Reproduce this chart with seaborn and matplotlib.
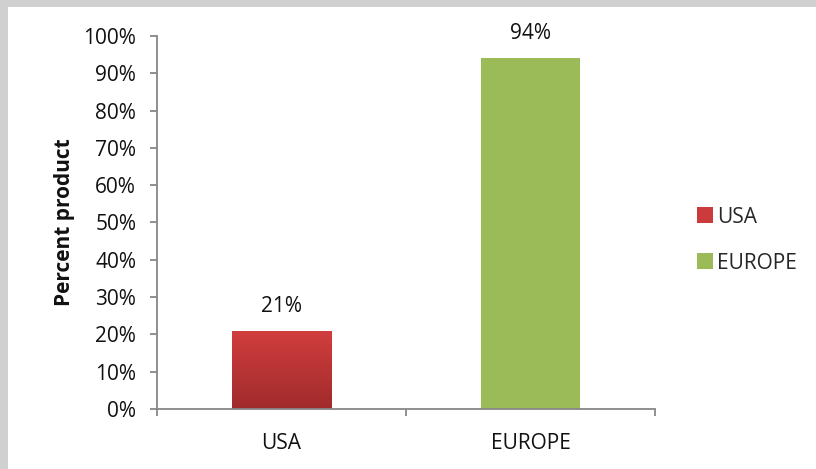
import numpy as np
import pandas as pd
import matplotlib
matplotlib.use("Agg")
import matplotlib.pyplot as plt
from matplotlib.patches import Rectangle
from matplotlib.colors import LinearSegmentedColormap
from matplotlib.ticker import PercentFormatter, MultipleLocator
import seaborn as sns

# Share of product, by region
regions = ["USA", "EUROPE"]
shares = [0.21, 0.94]
bar_colors = ["#CC3B3B", "#9BBB59"]

sns.set_theme(style="white")
plt.rcParams["font.family"] = ["Open Sans", "DejaVu Sans"]

FS = 15
TXT = "#111111"

df = pd.DataFrame({"region": regions, "share": shares})

fig = plt.figure(figsize=(8.16, 4.69), dpi=100)
fig.patch.set_facecolor("white")

# Light grey frame strips along the top and left edges
fig.patches.append(Rectangle((0, 1 - 7 / 469), 1, 7 / 469, transform=fig.transFigure,
                             facecolor="#D0D0D0", edgecolor="none", zorder=0))
fig.patches.append(Rectangle((0, 0), 8 / 816, 1, transform=fig.transFigure,
                             facecolor="#D0D0D0", edgecolor="none", zorder=0))

ax = fig.add_axes([157 / 816, 1 - 409 / 469, (655 - 157) / 816, (409 - 36) / 469])

sns.barplot(data=df, x="region", y="share", hue="region", palette=bar_colors,
            width=0.4, legend=False, ax=ax, edgecolor="none", saturation=1)

# Vertical shading on the red bar
red_grad = LinearSegmentedColormap.from_list("redgrad", ["#A02B2B", "#D23E3E"])
for patch, region in zip(ax.patches, regions):
    if region == "USA":
        x0, y0 = patch.get_x(), patch.get_y()
        w, h = patch.get_width(), patch.get_height()
        grad = np.linspace(0, 1, 256).reshape(-1, 1)
        im = ax.imshow(grad, cmap=red_grad, origin="lower", aspect="auto",
                       extent=(x0, x0 + w, y0, y0 + h), zorder=patch.get_zorder() + 0.1)
        im.set_clip_path(patch)

# Value labels above bars
for i, v in enumerate(shares):
    ax.annotate(f"{v:.0%}", (i, v), xytext=(0, 10), textcoords="offset points",
                ha="center", va="bottom", fontsize=FS, color=TXT)

ax.set_xlim(-0.5, 1.5)
ax.set_ylim(0, 1.0)
ax.yaxis.set_major_locator(MultipleLocator(0.1))
ax.yaxis.set_major_formatter(PercentFormatter(1.0, decimals=0))

spine_color = "#878787"
for side in ["top", "right"]:
    ax.spines[side].set_visible(False)
for side in ["left", "bottom"]:
    ax.spines[side].set_color(spine_color)
    ax.spines[side].set_linewidth(1.3)

# Category boundary ticks on x, with labels centred on each category
ax.set_xticks([-0.5, 0.5, 1.5])
ax.set_xticklabels([])
ax.set_xticks([0, 1], minor=True)
ax.set_xticklabels(regions, minor=True)
ax.tick_params(axis="x", which="major", direction="out", length=5, width=1.3,
               color=spine_color, bottom=True)
ax.tick_params(axis="x", which="minor", length=0, pad=17, labelsize=FS,
               labelcolor=TXT)
ax.tick_params(axis="y", direction="out", length=5, width=1.3, color=spine_color,
               left=True, pad=10, labelsize=FS, labelcolor=TXT)

ax.set_xlabel("")
ax.set_ylabel("Percent product", fontsize=FS, fontweight="bold", color=TXT,
              labelpad=6)

# Legend
handles = [Rectangle((0, 0), 1, 1, facecolor=c, edgecolor="none") for c in bar_colors]
fig.legend(handles, regions, loc="center left", bbox_to_anchor=(689 / 816, 1 - 240 / 469),
           frameon=False, fontsize=FS, handlelength=0.75, handleheight=0.8,
           handletextpad=0.2, labelspacing=1.2, borderaxespad=0)

fig.savefig("out.png", dpi=100)
